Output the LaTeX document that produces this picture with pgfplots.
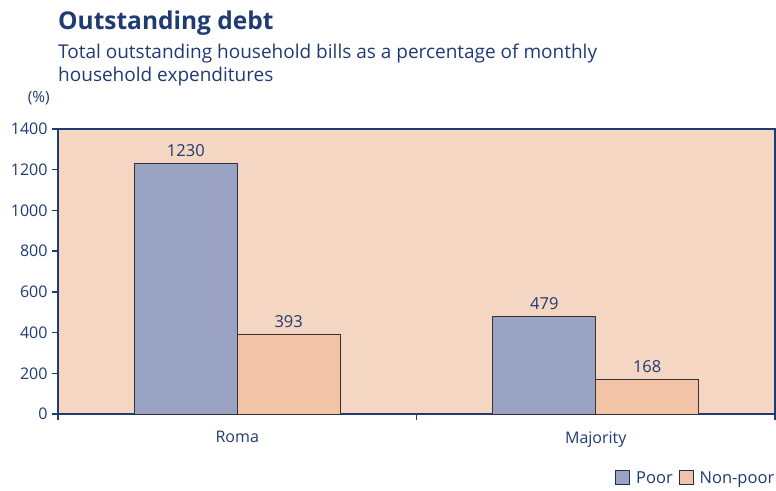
\documentclass[border=0pt]{standalone}
\usepackage{pgfplots}
\pgfplotsset{compat=1.18}
\usepackage{fontspec}
\setmainfont{Open Sans}
\definecolor{navy}{HTML}{1F3B73}
\definecolor{poor}{HTML}{9BA3C4}
\definecolor{nonpoor}{HTML}{F2C3A6}
\definecolor{bg}{HTML}{F5D6C2}
\begin{document}
\begin{tikzpicture}
\useasboundingbox (0pt,0pt) rectangle (776pt,490pt);
\node[anchor=base west, font=\fontsize{24.5}{28}\selectfont\bfseries, text=navy, inner sep=0] at (58pt,460pt) {Outstanding debt};
\node[anchor=base west, font=\fontsize{19}{22}\selectfont, text=navy, inner sep=0] at (58pt,431pt) {Total outstanding household bills as a percentage of monthly};
\node[anchor=base west, font=\fontsize{19}{22}\selectfont, text=navy, inner sep=0] at (58pt,408pt) {household expenditures};
\node[anchor=base east, font=\fontsize{15.5}{18}\selectfont, text=navy, inner sep=0] at (50pt,387pt) {(\%)};
\begin{axis}[
  at={(58pt,76pt)}, anchor=south west,
  scale only axis, width=717pt, height=285pt,
  ybar=0pt, bar width=0.287,
  xmin=-0.5, xmax=1.5, ymin=0, ymax=1400,
  axis background/.style={fill=bg},
  axis line style={navy, line width=1.3pt},
  ytick={0,200,...,1400},
  xtick={-0.5,0.5,1.5}, xticklabels={},
  extra x ticks={0,1}, extra x tick labels={Roma,Majority},
  extra x tick style={major tick length=0pt, tick label style={yshift=-14pt}},
  tick pos=left,
  tick align=outside, major tick length=6pt,
  tick style={navy, line width=1.3pt},
  ticklabel style={font=\fontsize{16}{19}\selectfont, text=navy},
  /pgf/number format/assume math mode=true,
  /pgf/number format/1000 sep={},
  yticklabel style={xshift=-1pt},
  nodes near coords,
  nodes near coords style={font=\fontsize{16.5}{19}\selectfont, text=navy, yshift=3pt},
  legend columns=2,
  legend style={draw=none, fill=none, at={(1.002,-0.225)}, anchor=east, font=\fontsize{16.5}{19}\selectfont, text=navy, column sep=4pt, inner sep=0pt},
  legend image code/.code={\draw[#1, draw=navy!80!black] (0,-6pt) rectangle (14pt,8pt);},
  clip=false,
]
\addplot[fill=poor, draw=black!80, line width=0.8pt] coordinates {(0,1230) (1,479)};
\addplot[fill=nonpoor, draw=black!80, line width=0.8pt] coordinates {(0,393) (1,168)};
\legend{Poor,Non-poor}
\end{axis}
\end{tikzpicture}
\end{document}
